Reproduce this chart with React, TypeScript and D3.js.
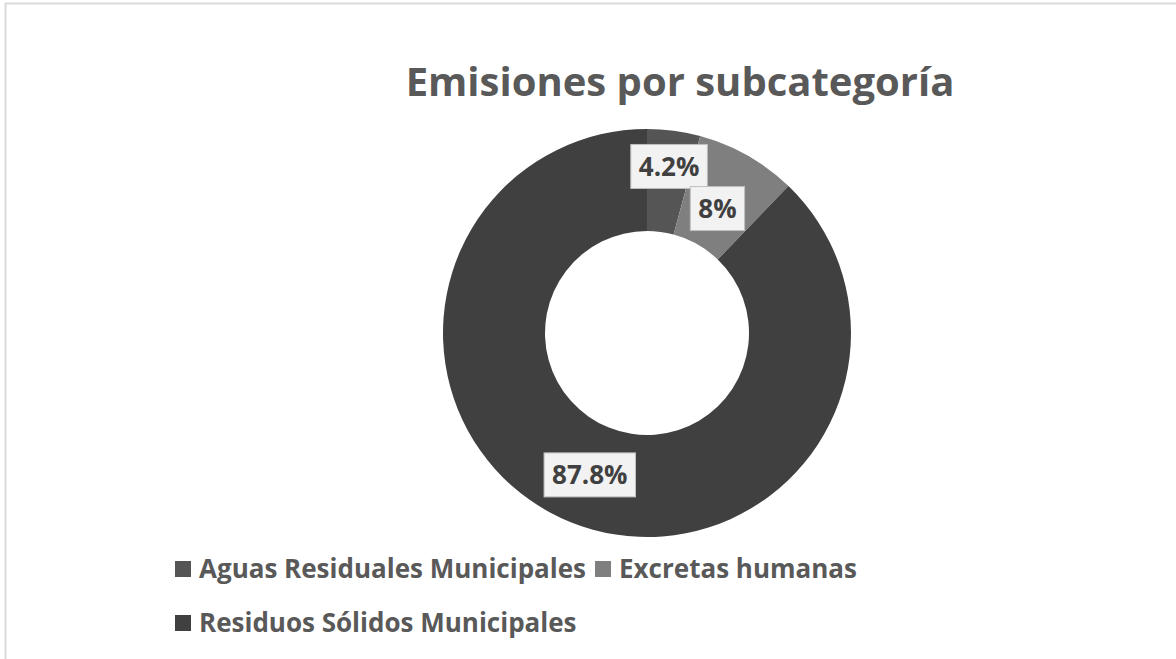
import { useEffect, useRef } from "react";
import * as d3 from "d3";

const categories = ["Aguas Residuales Municipales", "Excretas humanas", "Residuos Sólidos Municipales"];
const values = [4.2, 8, 87.8];
const labels = ["4.2%", "8%", "87.8%"];
const colors = ["#555555", "#7f7f7f", "#404040"];
// label radius per slice (Excel nudges the small ones apart)
const labelRadius = [168, 143, 153];

const W = 1176;
const H = 659;
const FONT = "'Open Sans', 'Noto Sans', sans-serif";

export default function App() {
  const ref = useRef<SVGSVGElement>(null);

  useEffect(() => {
    const svg = d3.select(ref.current);
    svg.selectAll("*").remove();

    svg
      .append("rect")
      .attr("x", 5.5)
      .attr("y", 3.5)
      .attr("width", W + 20)
      .attr("height", H + 20)
      .attr("fill", "#fff")
      .attr("stroke", "#d9d9d9")
      .attr("stroke-width", 2);

    svg
      .append("text")
      .attr("x", 680)
      .attr("y", 96)
      .attr("text-anchor", "middle")
      .attr("font-family", FONT)
      .attr("font-weight", "bold")
      .attr("font-size", 40)
      .attr("fill", "#595959")
      .text("Emisiones por subcategoría");

    const cx = 647;
    const cy = 333;
    const outer = 204;
    const inner = 102;

    const pie = d3.pie<number>().sort(null).value((d) => d);
    const arcs = pie(values);
    const arc = d3.arc<d3.PieArcDatum<number>>().innerRadius(inner).outerRadius(outer);

    const g = svg.append("g").attr("transform", `translate(${cx},${cy})`);
    g.selectAll("path.slice")
      .data(arcs)
      .join("path")
      .attr("class", "slice")
      .attr("d", arc)
      .attr("fill", (_, i) => colors[i]);

    arcs.forEach((a, i) => {
      const ang = (a.startAngle + a.endAngle) / 2;
      const r = labelRadius[i];
      const x = r * Math.sin(ang);
      const y = -r * Math.cos(ang);
      const lg = g.append("g").attr("transform", `translate(${x},${y})`);
      const t = lg
        .append("text")
        .attr("text-anchor", "middle")
        .attr("dy", "0.36em")
        .attr("font-family", FONT)
        .attr("font-weight", "bold")
        .attr("font-size", 26)
        .attr("fill", "#404040")
        .text(labels[i]);
      const bb = (t.node() as SVGTextElement).getBBox();
      lg.insert("rect", "text")
        .attr("x", -bb.width / 2 - 8)
        .attr("y", -22)
        .attr("width", bb.width + 16)
        .attr("height", 44)
        .attr("fill", "#f2f2f2")
        .attr("stroke", "#bfbfbf")
        .attr("stroke-width", 1);
    });

    // legend
    const rows = [
      [0, 1],
      [2],
    ];
    rows.forEach((row, ri) => {
      let x = 175;
      const y = 569 + ri * 54;
      row.forEach((ci) => {
        svg
          .append("rect")
          .attr("x", x)
          .attr("y", y - 8)
          .attr("width", 16)
          .attr("height", 16)
          .attr("fill", colors[ci]);
        const t = svg
          .append("text")
          .attr("x", x + 24)
          .attr("y", y)
          .attr("dy", "0.36em")
          .attr("font-family", FONT)
          .attr("font-weight", "bold")
          .attr("font-size", 26)
          .attr("fill", "#595959")
          .text(categories[ci]);
        const w = (t.node() as SVGTextElement).getComputedTextLength();
        x = x + 24 + w + 9;
      });
    });
  }, []);

  return (
    <svg
      ref={ref}
      width={W}
      height={H}
      style={{ position: "absolute", left: 0, top: 0, display: "block" }}
    />
  );
}
